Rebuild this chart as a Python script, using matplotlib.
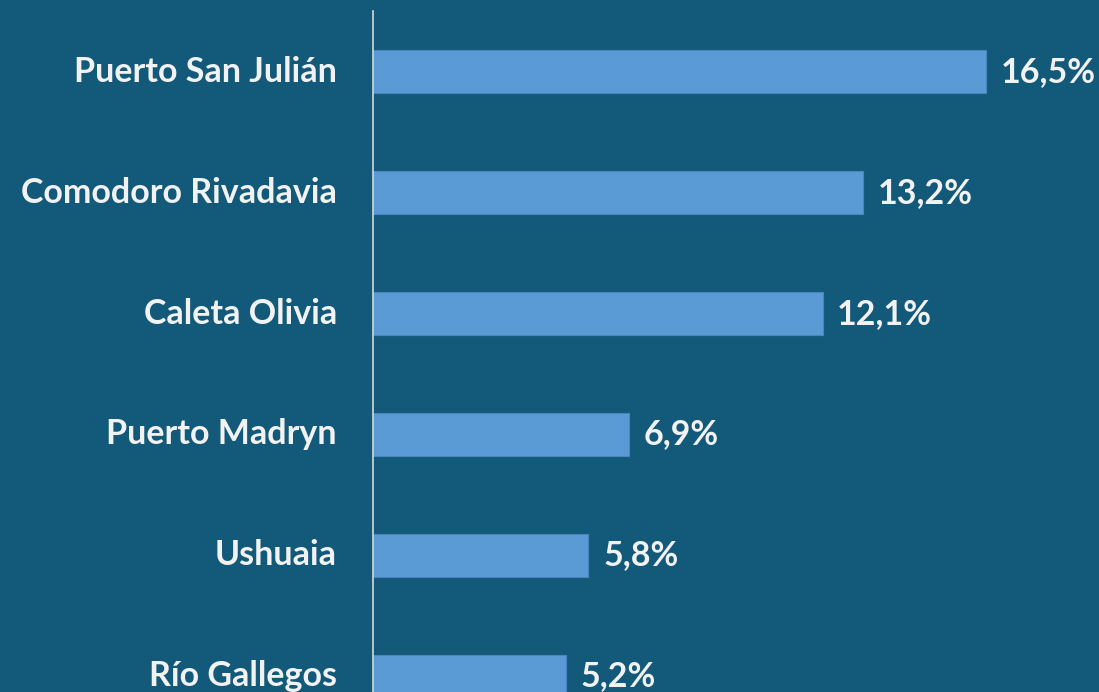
import matplotlib
matplotlib.use("Agg")
import matplotlib.pyplot as plt

# data
cities = ["Puerto San Julián", "Comodoro Rivadavia", "Caleta Olivia",
          "Puerto Madryn", "Ushuaia", "Río Gallegos"]
shares = [16.5, 13.2, 12.1, 6.9, 5.8, 5.2]
value_labels = ["16,5%", "13,2%", "12,1%", "6,9%", "5,8%", "5,2%"]

bg = "#135a7a"
bar_color = "#5b9bd5"
text_color = "#f2f2f2"

plt.rcParams['font.family'] = ['Lato', 'DejaVu Sans']

fig = plt.figure(figsize=(10.99, 6.92), dpi=100, facecolor=bg)
ax = fig.add_axes([373 / 1099, 0, 1 - 373 / 1099, 1 - 11 / 692])
ax.set_facecolor(bg)

ypos = list(range(len(cities)))
ax.barh(ypos, shares, height=0.355, color=bar_color, edgecolor="#4a86bd", linewidth=0.8)

# category labels to the left of the axis, value labels after each bar
for y, name, v, lab in zip(ypos, cities, shares, value_labels):
    ax.annotate(name, xy=(0, y), xytext=(-26, 0), textcoords="offset points",
                ha="right", va="center", color=text_color, fontsize=24.5, fontweight="bold",
                annotation_clip=False)
    ax.annotate(lab, xy=(v, y), xytext=(10.5, 0), textcoords="offset points",
                ha="left", va="center", color=text_color, fontsize=24.5, fontweight="bold",
                annotation_clip=False)

ax.set_xlim(0, 726 / 37.15)
ax.set_ylim(5.132, -0.504)
ax.set_xticks([])
ax.set_yticks([])
for side in ["top", "right", "bottom"]:
    ax.spines[side].set_visible(False)
ax.spines["left"].set_color("#d9d9d9")
ax.spines["left"].set_linewidth(1.2)

fig.savefig("out.png", dpi=100, facecolor=bg)
